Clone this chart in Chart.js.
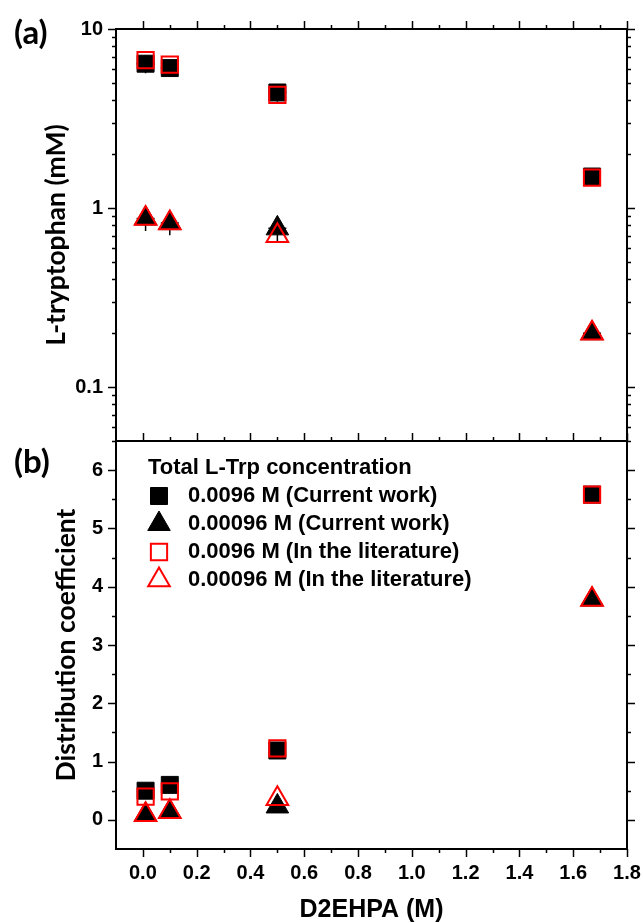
<!DOCTYPE html>
<html>
<head>
<meta charset="utf-8">
<script src="https://cdn.jsdelivr.net/npm/chart.js@4.4.1/dist/chart.umd.min.js"></script>
<style>
  body { margin: 0; background: #fff; }
  #wrap { position: relative; width: 643px; height: 923px; }
  #wrap canvas { position: absolute; left: 0; }
  #chartA { top: 0; }
  #chartB { top: 425px; }
  .panel { position: absolute; left: 14px; font: bold 33px Lato, sans-serif; line-height: 33px; color: #000; }
</style>
</head>
<body>
<div id="wrap">
  <canvas id="chartA" width="643" height="460"></canvas>
  <canvas id="chartB" width="643" height="498"></canvas>
  <div class="panel" style="top:15px">(a)</div>
  <div class="panel" style="top:444px">(b)</div>
</div>
<script>
// D2EHPA concentration (M)
const dConc = [0.01, 0.1, 0.5, 1.67];

// (a) L-tryptophan left in the aqueous phase (mM)
const trpHighCurrent    = [6.4, 6.05, 4.42, 1.5];
const trpHighCurrentErr = [0.74, 0.62, 0.5, 0.15];
const trpLowCurrent     = [0.875, 0.824, 0.77, 0.2];
const trpLowCurrentErr  = [0.13, 0.12, 0.115, 0.01];
const trpHighLit        = [6.7, 6.33, 4.29, 1.48];
const trpLowLit         = [0.874, 0.824, 0.70, 0.2];

// (b) distribution coefficient
const kdHighCurrent = [0.5, 0.6, 1.19, 5.58];
const kdLowCurrent  = [0.09, 0.14, 0.23, 3.78];
const kdHighLit     = [0.4, 0.49, 1.225, 5.58];
const kdLowLit      = [0.086, 0.14, 0.36, 3.78];

const seriesNames = [
  '0.0096 M (Current work)',
  '0.00096 M (Current work)',
  '0.0096 M (In the literature)',
  '0.00096 M (In the literature)'
];
const legendTitle = 'Total L-Trp concentration';

// axis ticks
const xTicks  = [0, 0.2, 0.4, 0.6, 0.8, 1.0, 1.2, 1.4, 1.6, 1.8];
const xMinor  = [0.1, 0.3, 0.5, 0.7, 0.9, 1.1, 1.3, 1.5, 1.7];
const yTicksA = [0.1, 1, 10];
const yMinorA = [0.05, 0.06, 0.07, 0.08, 0.09, 0.2, 0.3, 0.4, 0.5, 0.6, 0.7, 0.8, 0.9, 2, 3, 4, 5, 6, 7, 8, 9];
const yTicksB = [0, 1, 2, 3, 4, 5, 6];
const yMinorB = [0.5, 1.5, 2.5, 3.5, 4.5, 5.5];

// marker styles
const blackSquare = { pointStyle: 'rect', pointRadius: 12, backgroundColor: '#000', borderColor: '#000', borderWidth: 1, order: 1 };
const blackTri    = { pointStyle: 'triangle', pointRadius: 13, backgroundColor: '#000', borderColor: '#000', borderWidth: 1, order: 1 };
const redSquare   = { pointStyle: 'rect', pointRadius: 11.5, backgroundColor: 'rgba(0,0,0,0)', borderColor: '#ff0000', borderWidth: 2, order: 0 };
const redTri      = { pointStyle: 'triangle', pointRadius: 12.5, backgroundColor: 'rgba(0,0,0,0)', borderColor: '#ff0000', borderWidth: 2, order: 0 };
const legendStyles = [blackSquare, blackTri, redSquare, redTri];

const tickFont  = { family: 'Liberation Sans', size: 20, weight: 'bold' };
const AXIS_LEFT = 116, AXIS_RIGHT = 16;

const toPoints = (ys) => dConc.map((x, i) => ({ x: x, y: ys[i] }));

function series(style, ys, errors) {
  return Object.assign({ data: toPoints(ys), showLine: false, pointHoverRadius: style.pointRadius, errors: errors }, style);
}

// outward tick marks drawn on the chart frame
function tickPlugin(axes) {
  return {
    id: 'frameTicks',
    afterDraw(chart) {
      const ctx = chart.ctx, area = chart.chartArea;
      ctx.save();
      ctx.strokeStyle = '#000';
      ctx.lineWidth = 1.5;
      axes.forEach(a => {
        const scale = chart.scales[a.id];
        [[a.major, 8], [a.minor, 4]].forEach(([vals, len]) => {
          vals.forEach(v => {
            const p = Math.round(scale.getPixelForValue(v)) + 0.5;
            ctx.beginPath();
            if (a.side === 'left')   { ctx.moveTo(area.left, p);   ctx.lineTo(area.left - len, p); }
            if (a.side === 'right')  { ctx.moveTo(area.right, p);  ctx.lineTo(area.right + len, p); }
            if (a.side === 'top')    { ctx.moveTo(p, area.top);    ctx.lineTo(p, area.top - len); }
            if (a.side === 'bottom') { ctx.moveTo(p, area.bottom); ctx.lineTo(p, area.bottom + len); }
            ctx.stroke();
          });
        });
      });
      ctx.restore();
    }
  };
}

// vertical error bars (with a short crossbar at the point) under the filled markers
const errorBars = {
  id: 'errorBars',
  beforeDatasetDraw(chart, args) {
    const ds = chart.data.datasets[args.index];
    if (!ds.errors) return;
    const yScale = chart.scales[args.meta.yAxisID];
    const ctx = chart.ctx;
    ctx.save();
    ctx.strokeStyle = '#000';
    ctx.lineWidth = 1.5;
    args.meta.data.forEach((pt, i) => {
      const v = ds.data[i].y, e = ds.errors[i];
      const yHi = yScale.getPixelForValue(v + e);
      const yLo = yScale.getPixelForValue(v - e);
      ctx.beginPath();
      ctx.moveTo(pt.x, yHi); ctx.lineTo(pt.x, yLo);
      ctx.moveTo(pt.x - 9, pt.y); ctx.lineTo(pt.x + 9, pt.y);
      ctx.stroke();
    });
    ctx.restore();
  }
};

function drawMarker(ctx, style, x, y) {
  const r = style.pointRadius;
  ctx.beginPath();
  if (style.pointStyle === 'rect') {
    const s = r * Math.SQRT1_2;
    ctx.rect(x - s, y - s, 2 * s, 2 * s);
  } else {
    ctx.moveTo(x, y - r);
    ctx.lineTo(x + r * Math.sin(2 * Math.PI / 3), y - r * Math.cos(2 * Math.PI / 3));
    ctx.lineTo(x + r * Math.sin(4 * Math.PI / 3), y - r * Math.cos(4 * Math.PI / 3));
    ctx.closePath();
  }
  ctx.fillStyle = style.backgroundColor;
  ctx.fill();
  ctx.lineWidth = style.borderWidth;
  ctx.strokeStyle = style.borderColor;
  ctx.stroke();
}

// legend box inside panel (b)
const insideLegend = {
  id: 'insideLegend',
  afterDraw(chart) {
    const { ctx, chartArea } = chart;
    const x0 = chartArea.left, y0 = chartArea.top;
    ctx.save();
    ctx.font = 'bold 22px "Liberation Sans"';
    ctx.textBaseline = 'middle';
    ctx.textAlign = 'left';
    ctx.fillStyle = '#000';
    ctx.fillText(legendTitle, x0 + 32, y0 + 27);
    seriesNames.forEach((name, i) => {
      const cy = y0 + 55 + i * 28;
      drawMarker(ctx, legendStyles[i], x0 + 43, cy);
      ctx.fillStyle = '#000';
      ctx.fillText(name, x0 + 72, cy);
    });
    ctx.restore();
  }
};

const plainGrid = { display: false, drawTicks: false };
const frame = { display: true, color: '#000', width: 2 };

// keep every panel's frame at fixed pixel edges
function noLabelPadding(s) {
  s.paddingLeft = 0; s.paddingRight = 0; s.paddingTop = 0; s.paddingBottom = 0;
}

function xScale(position, height, showLabels, title) {
  return {
    type: 'linear', position: position, min: -0.1, max: 1.8,
    grid: plainGrid, border: frame,
    ticks: {
      display: showLabels, font: tickFont, color: '#000', padding: 12,
      autoSkip: false, maxRotation: 0,
      callback: v => v.toFixed(1)
    },
    afterBuildTicks: s => { s.ticks = xTicks.map(v => ({ value: v })); },
    title: title || { display: false },
    afterFit: s => { s.height = height; noLabelPadding(s); }
  };
}

function yScale(type, position, min, max, ticks, title) {
  const left = position === 'left';
  return {
    type: type, position: position, min: min, max: max,
    grid: plainGrid, border: frame,
    ticks: {
      display: left, font: tickFont, color: '#000', padding: 13, autoSkip: false,
      callback: v => String(v)
    },
    afterBuildTicks: s => { s.ticks = ticks.map(v => ({ value: v })); },
    title: title || { display: false },
    afterFit: s => { s.width = left ? AXIS_LEFT : AXIS_RIGHT; noLabelPadding(s); }
  };
}

function yTitle(text, pad) {
  return {
    display: true, text: text, color: '#000',
    font: { family: 'Lato', size: 26.5, weight: 'bold', lineHeight: 1 },
    padding: { top: pad, bottom: 0 }
  };
}

new Chart(document.getElementById('chartA'), {
  type: 'scatter',
  data: {
    datasets: [
      series(blackSquare, trpHighCurrent, trpHighCurrentErr),
      series(blackTri, trpLowCurrent, trpLowCurrentErr),
      series(redSquare, trpHighLit),
      series(redTri, trpLowLit)
    ]
  },
  options: {
    responsive: false, animation: false, devicePixelRatio: 1,
    layout: { padding: { left: 0, right: 0, top: 0, bottom: 19 } },
    plugins: { legend: { display: false }, tooltip: { enabled: false } },
    scales: {
      x: xScale('bottom', 0, false),
      x2: xScale('top', 29, false),
      y: yScale('logarithmic', 'left', 0.05, 10, yTicksA, yTitle('L-tryptophan (mM)', 43)),
      y2: yScale('logarithmic', 'right', 0.05, 10, yTicksA)
    }
  },
  plugins: [errorBars, tickPlugin([
    { id: 'y', side: 'left', major: yTicksA, minor: yMinorA },
    { id: 'y2', side: 'right', major: yTicksA, minor: yMinorA },
    { id: 'x2', side: 'top', major: xTicks, minor: xMinor }
  ])]
});

new Chart(document.getElementById('chartB'), {
  type: 'scatter',
  data: {
    datasets: [
      series(blackSquare, kdHighCurrent),
      series(blackTri, kdLowCurrent),
      series(redSquare, kdHighLit),
      series(redTri, kdLowLit)
    ]
  },
  options: {
    responsive: false, animation: false, devicePixelRatio: 1,
    layout: { padding: 0 },
    plugins: { legend: { display: false }, tooltip: { enabled: false } },
    scales: {
      x: xScale('bottom', 74, true, {
        display: true, text: 'D2EHPA (M)', color: '#000',
        font: { family: 'Liberation Sans', size: 25, weight: 'bold', lineHeight: 1 },
        padding: { top: 0, bottom: 0 }
      }),
      x2: xScale('top', 16, false),
      y: yScale('linear', 'left', -0.5, 6.5, yTicksB, yTitle('Distribution coefficient', 53)),
      y2: yScale('linear', 'right', -0.5, 6.5, yTicksB)
    }
  },
  plugins: [insideLegend, tickPlugin([
    { id: 'y', side: 'left', major: yTicksB, minor: yMinorB },
    { id: 'y2', side: 'right', major: yTicksB, minor: yMinorB },
    { id: 'x2', side: 'top', major: xTicks, minor: xMinor },
    { id: 'x', side: 'bottom', major: xTicks, minor: xMinor }
  ])]
});
</script>
</body>
</html>
